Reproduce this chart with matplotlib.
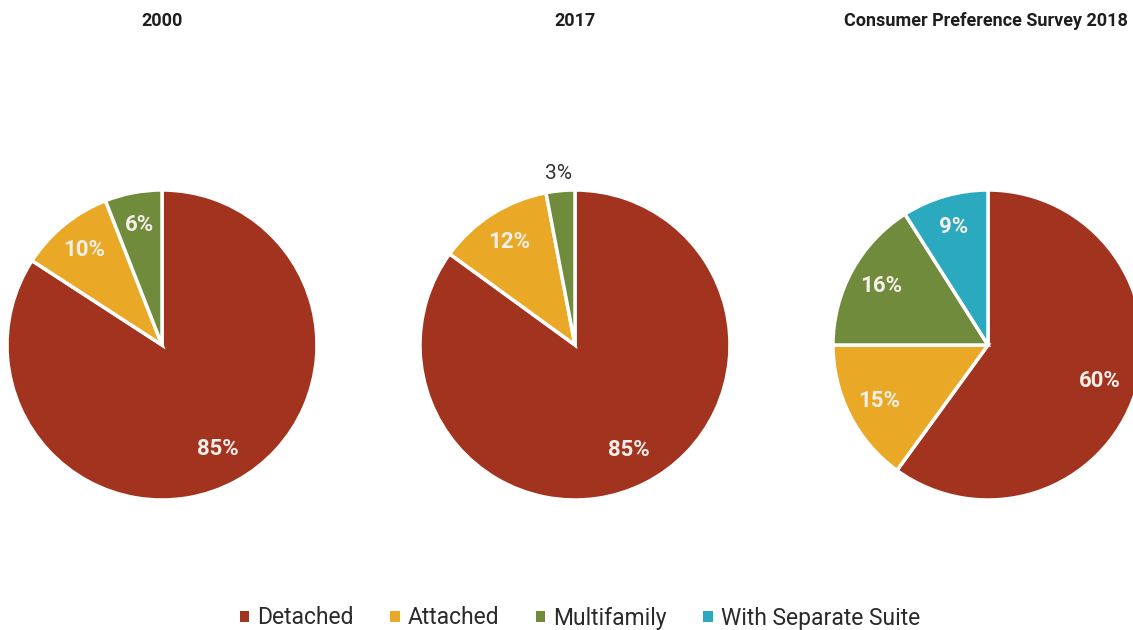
import matplotlib
matplotlib.use("Agg")
import matplotlib.pyplot as plt
from matplotlib.patches import Patch
import numpy as np

categories = ["Detached", "Attached", "Multifamily", "With Separate Suite"]
titles = ["2000", "2017", "Consumer Preference Survey 2018"]
values_2000 = [85, 10, 6]
values_2017 = [85, 12, 3]
values_2018 = [60, 15, 16, 9]
colors = ["#A1331F", "#E9A927", "#6F8B3B", "#2BA9BE"]

W, H = 1133, 630
fig = plt.figure(figsize=(W / 100, H / 100), dpi=100)
fig.patch.set_facecolor("white")
plt.rcParams["font.family"] = ["Roboto", "DejaVu Sans"]

centers_x = [162, 575, 988]
title_x = [162, 575, 986]
cy = 345
r = 155

for vals, cx, tx, title in zip([values_2000, values_2017, values_2018], centers_x, title_x, titles):
    ax = fig.add_axes([(cx - r) / W, (H - cy - r) / H, 2 * r / W, 2 * r / H])
    wedges, _ = ax.pie(vals, colors=colors[:len(vals)], startangle=90, counterclock=False,
                       radius=1.0, wedgeprops=dict(edgecolor="white", linewidth=2.5))
    ax.set_xlim(-1, 1)
    ax.set_ylim(-1, 1)
    ax.set_aspect("equal")
    ax.axis("off")
    total = sum(vals)
    for w, v in zip(wedges, vals):
        ang = np.deg2rad((w.theta1 + w.theta2) / 2)
        frac = v / total
        if frac < 0.05:
            d = 1.11
            ax.text(d * np.cos(ang), d * np.sin(ang), f"{v}%", ha="center", va="center",
                    fontsize=15, color="#333333", clip_on=False)
        else:
            d = 0.79 if frac < 0.5 else 0.76
            ax.text(d * np.cos(ang), d * np.sin(ang), f"{v}%", ha="center", va="center",
                    fontsize=16, fontweight="bold", color="#F5EFE9")
    fig.text(tx / W, 1 - 21 / H, title, ha="center", va="center", fontsize=13,
             fontweight="bold", color="#1E1E1E")

handles = [Patch(facecolor=c, edgecolor="none") for c in colors]
leg = fig.legend(handles, categories, loc="center", bbox_to_anchor=(580 / W, 1 - 618 / H),
                 ncol=4, frameon=False, fontsize=16.5, handlelength=0.4, handleheight=0.4,
                 handletextpad=0.35, columnspacing=1.6, labelcolor="#2A2A2A")

fig.savefig("out.png", dpi=100, facecolor="white")
